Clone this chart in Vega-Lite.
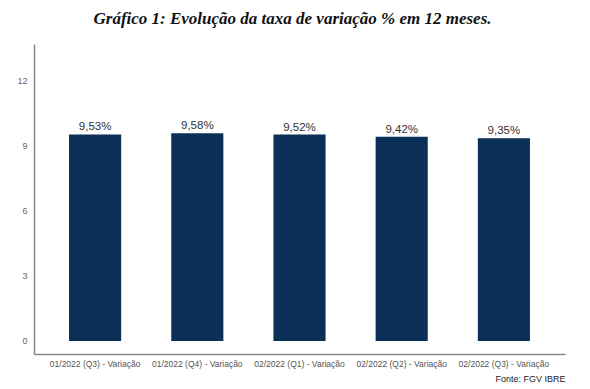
{
  "$schema": "https://vega.github.io/schema/vega-lite/v6.json",
  "width": 531,
  "height": 310,
  "autosize": "none",
  "padding": {"left": 34, "top": 44, "right": 25, "bottom": 35},
  "background": "white",
  "title": {
    "text": "Gráfico 1: Evolução da taxa de variação % em 12 meses.",
    "font": "Liberation Serif",
    "fontSize": 17,
    "fontWeight": "bold",
    "fontStyle": "italic",
    "color": "#111111",
    "anchor": "middle",
    "dx": -7,
    "offset": 16
  },
  "data": {
    "values": [
      {"periodo": "01/2022 (Q3) - Variação", "valor": 9.53},
      {"periodo": "01/2022 (Q4) - Variação", "valor": 9.58},
      {"periodo": "02/2022 (Q1) - Variação", "valor": 9.52},
      {"periodo": "02/2022 (Q2) - Variação", "valor": 9.42},
      {"periodo": "02/2022 (Q3) - Variação", "valor": 9.35}
    ]
  },
  "transform": [
    {"calculate": "replace(format(datum.valor, '.2f'), '.', ',') + '%'", "as": "rotulo"}
  ],
  "encoding": {
    "x": {
      "field": "periodo",
      "type": "nominal",
      "sort": null,
      "scale": {"paddingInner": 0.49, "paddingOuter": 0.343},
      "axis": {
        "title": "Fonte: FGV IBRE",
        "titleAnchor": "end",
        "titleFont": "Liberation Sans",
        "titleFontSize": 9,
        "titleFontWeight": "normal",
        "titleColor": "#222222",
        "titlePadding": 7,
        "labelAngle": 0,
        "labelFont": "Liberation Sans",
        "labelFontSize": 8.5,
        "labelColor": "#555555",
        "labelPadding": 5,
        "ticks": false,
        "domainColor": "#888888",
        "domainWidth": 1.5
      }
    },
    "y": {
      "field": "valor",
      "type": "quantitative",
      "scale": {"domain": [-0.6, 13.7], "nice": false, "zero": false},
      "axis": {
        "title": null,
        "values": [0, 3, 6, 9, 12],
        "grid": false,
        "ticks": false,
        "labelFont": "Liberation Sans",
        "labelFontSize": 9,
        "labelColor": "#666666",
        "labelPadding": 7,
        "domainColor": "#888888",
        "domainWidth": 1.5
      }
    }
  },
  "layer": [
    {
      "mark": {"type": "bar", "color": "#0a3057"},
      "encoding": {"y2": {"datum": 0}}
    },
    {
      "mark": {
        "type": "text",
        "baseline": "bottom",
        "dy": -2,
        "font": "Liberation Sans",
        "fontSize": 11.5,
        "color": "#333333"
      },
      "encoding": {"text": {"field": "rotulo"}}
    }
  ],
  "config": {"view": {"stroke": null}}
}
